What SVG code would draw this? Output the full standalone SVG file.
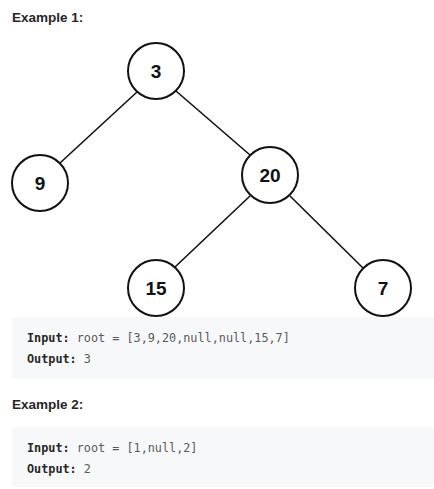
<svg xmlns="http://www.w3.org/2000/svg" width="434" height="489" viewBox="0 0 434 489">
<style>
.h{font-family:"Liberation Sans",Arial,sans-serif;font-weight:bold;font-size:13.5px;fill:#262626}
.n circle{fill:#fff;stroke:#111;stroke-width:2}
.n text{font-family:"Liberation Sans",Arial,sans-serif;font-weight:bold;font-size:19px;fill:#111;text-anchor:middle}
.e line{stroke:#111;stroke-width:1.6}
.code{fill:#f7f8fa}
.m{font-family:"DejaVu Sans Mono","Liberation Mono",monospace;font-size:11.8px;fill:#5a5a5a}
.m tspan.b{font-weight:bold;fill:#262626}
</style>
<rect width="434" height="489" fill="#fff"/>
<text class="h" x="12" y="22">Example 1:</text>
<g class="e" id="connectors">
<line x1="137" y1="92" x2="60" y2="163"/>
<line x1="176" y1="91" x2="250" y2="155"/>
<line x1="250" y1="196" x2="175" y2="267"/>
<line x1="290" y1="196" x2="363" y2="268"/>
</g>
<g class="n" id="node3"><circle cx="156" cy="71" r="28"/><text x="156" y="78">3</text></g>
<g class="n" id="node9"><circle cx="40" cy="183" r="28"/><text x="40" y="190">9</text></g>
<g class="n" id="node20"><circle cx="270" cy="175" r="28"/><text x="270" y="182">20</text></g>
<g class="n" id="node15"><circle cx="156" cy="288" r="28"/><text x="156" y="295">15</text></g>
<g class="n" id="node7"><circle cx="383" cy="288" r="28"/><text x="383" y="295">7</text></g>
<rect class="code" x="12" y="317" width="422" height="62" rx="3"/>
<text class="m" x="27" y="342"><tspan class="b">Input:</tspan> root = [3,9,20,null,null,15,7]</text>
<text class="m" x="27" y="363"><tspan class="b">Output:</tspan> 3</text>
<text class="h" x="12" y="409">Example 2:</text>
<rect class="code" x="12" y="427" width="422" height="60" rx="3"/>
<text class="m" x="27" y="452"><tspan class="b">Input:</tspan> root = [1,null,2]</text>
<text class="m" x="27" y="473"><tspan class="b">Output:</tspan> 2</text>
</svg>
